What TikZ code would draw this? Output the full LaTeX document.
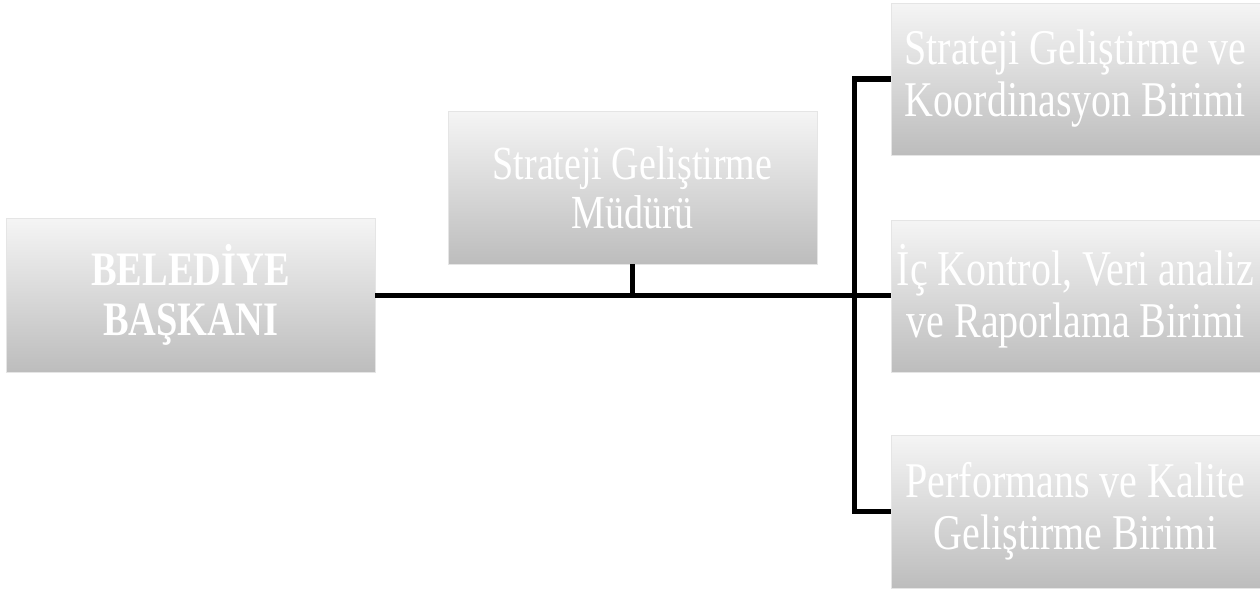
\documentclass[tikz,border=0pt]{standalone}
\usepackage{fontspec}
\setmainfont{Liberation Serif}[FakeStretch=0.8]
\begin{document}
\begin{tikzpicture}[x=1pt,y=-1pt,
  box/.style={rectangle, minimum width=369pt, inner sep=0pt, align=center,
    top color=black!4, bottom color=black!26, draw=white!90!black, line width=0.6pt,
    text=white, font=\fontsize{50}{52}\selectfont},
  conn/.style={line width=5.5pt, black}]
\useasboundingbox (0,0) rectangle (1260,590);
\node[box, minimum height=154pt, font=\bfseries\fontsize{48}{50}\selectfont] (baskan) at (190.5,295) {BELED\.{I}YE\\BAŞKANI};
\node[box, minimum height=153pt, font=\fontsize{47.5}{49}\selectfont] (mudur) at (632.5,187.5) {Strateji Geliştirme\\Müdürü};
\node[box, minimum height=152pt] (b1) at (1075.5,79) {Strateji Geliştirme ve\\Koordinasyon Birimi};
\node[box, minimum height=152pt] (b2) at (1075.5,296) {\.{I}ç Kontrol, Veri analiz\\ve Raporlama Birimi};
\node[box, minimum height=153pt] (b3) at (1075.5,511.5) {Performans ve Kalite\\Geliştirme Birimi};
\coordinate (v) at (854.5,295.5);
\draw[conn] (baskan.east |- v) -- (b2.west |- v);
\draw[conn] (mudur.south) -- (mudur.south |- v);
\draw[conn] (b1.west) -- (v |- b1.west) -- (v |- b3.west) -- (b3.west);
\end{tikzpicture}
\end{document}
